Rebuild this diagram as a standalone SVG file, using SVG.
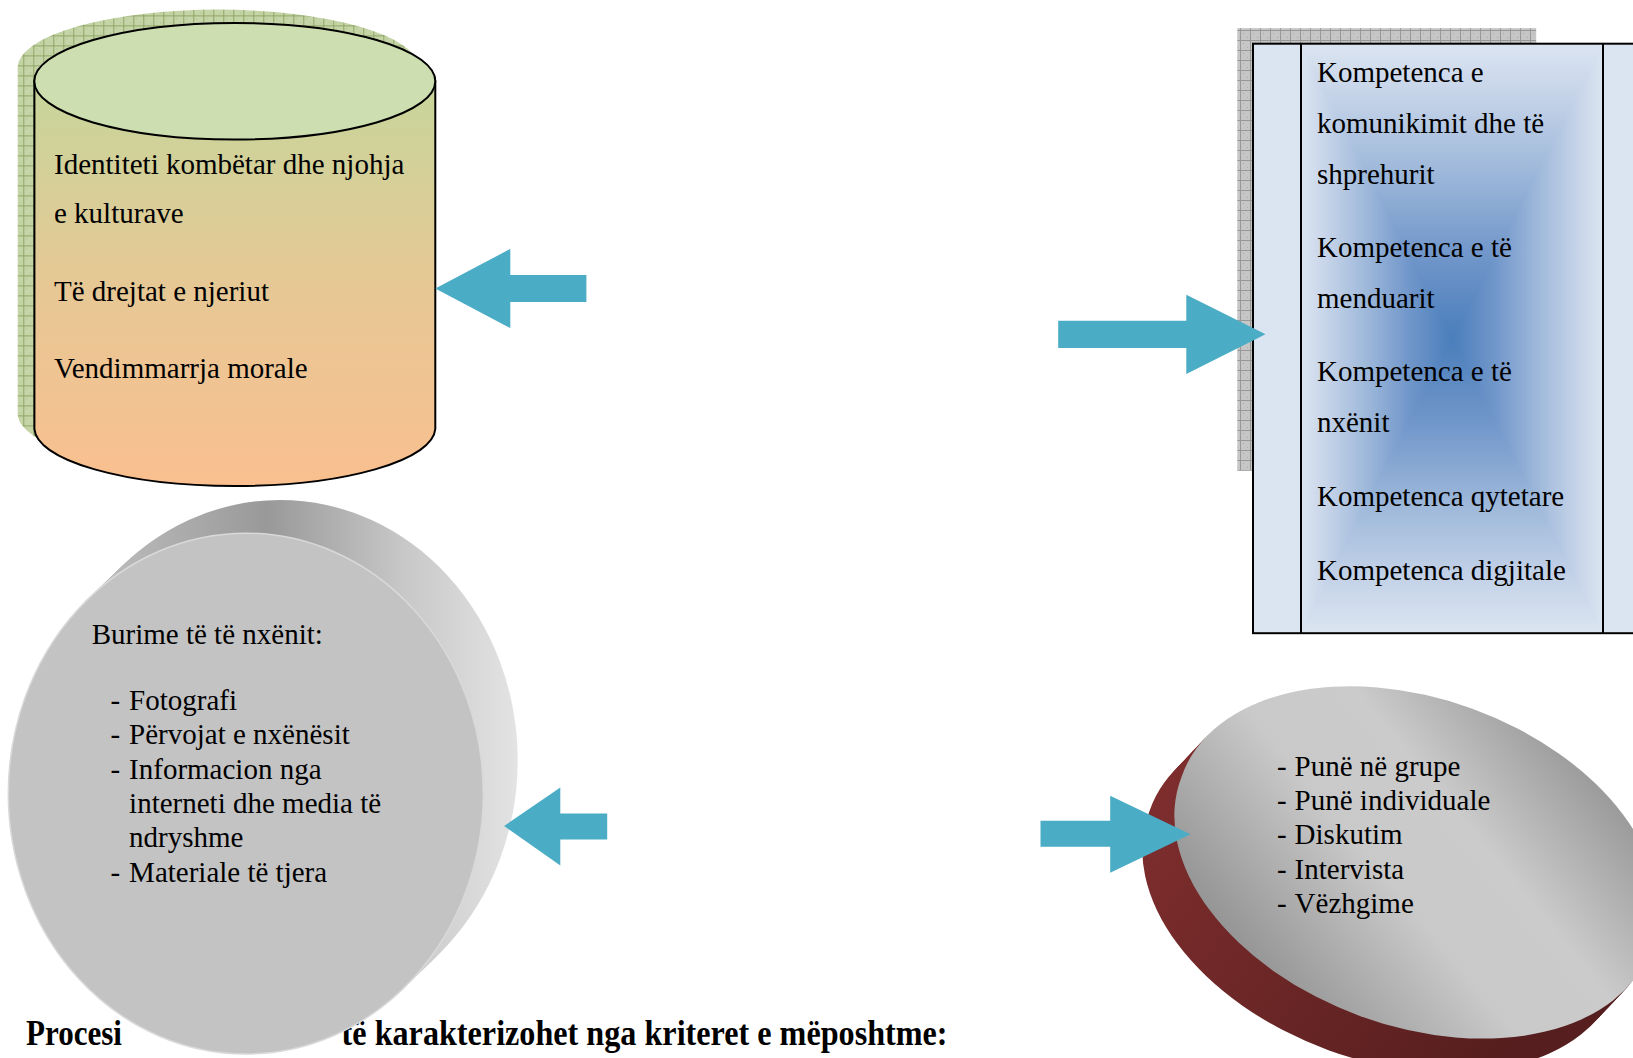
<svg xmlns="http://www.w3.org/2000/svg" width="1633" height="1058" viewBox="0 0 1633 1058">
<defs>
<style>
.t{font-family:"Liberation Serif","Times New Roman",serif;font-size:29px;fill:#000}
.b{font-family:"Liberation Serif","Times New Roman",serif;font-size:36px;font-weight:bold;fill:#000}
.arrow{fill:#4bacc6}
</style>
<pattern id="pGreen" width="10" height="10" patternUnits="userSpaceOnUse">
<rect width="10" height="10" fill="#c6d5a8"/>
<path d="M0 0.5H10M0.5 0V10" stroke="#8ea564" stroke-width="1"/>
<rect x="3" y="3" width="1" height="1" fill="#a9bd86"/><rect x="7" y="7" width="1" height="1" fill="#a9bd86"/>
</pattern>
<pattern id="pGray" width="10" height="10" patternUnits="userSpaceOnUse">
<rect width="10" height="10" fill="#c6c6c6"/>
<path d="M0 0.5H10M0.5 0V10" stroke="#979797" stroke-width="1"/>
<rect x="3" y="3" width="1" height="1" fill="#aaaaaa"/><rect x="7" y="7" width="1" height="1" fill="#aaaaaa"/>
</pattern>
<linearGradient id="gCyl" x1="0" y1="81" x2="0" y2="487" gradientUnits="userSpaceOnUse">
<stop offset="0" stop-color="#c6d69b"/>
<stop offset="0.5" stop-color="#e6c895"/>
<stop offset="1" stop-color="#fabf8f"/>
</linearGradient>
<linearGradient id="gL" x1="1301" y1="0" x2="1452" y2="0" gradientUnits="userSpaceOnUse">
<stop offset="0" stop-color="#dbe5f1"/><stop offset="0.15" stop-color="#c9d6ea"/><stop offset="0.4" stop-color="#a3bcdc"/><stop offset="0.7" stop-color="#7398cb"/><stop offset="1" stop-color="#4a7ebb"/>
</linearGradient>
<linearGradient id="gR" x1="1603" y1="0" x2="1452" y2="0" gradientUnits="userSpaceOnUse">
<stop offset="0" stop-color="#dbe5f1"/><stop offset="0.15" stop-color="#c9d6ea"/><stop offset="0.4" stop-color="#a3bcdc"/><stop offset="0.7" stop-color="#7398cb"/><stop offset="1" stop-color="#4a7ebb"/>
</linearGradient>
<linearGradient id="gT" x1="0" y1="43.7" x2="0" y2="338.5" gradientUnits="userSpaceOnUse">
<stop offset="0" stop-color="#dbe5f1"/><stop offset="0.15" stop-color="#c9d6ea"/><stop offset="0.4" stop-color="#a3bcdc"/><stop offset="0.7" stop-color="#7398cb"/><stop offset="1" stop-color="#4a7ebb"/>
</linearGradient>
<linearGradient id="gB" x1="0" y1="633.2" x2="0" y2="338.5" gradientUnits="userSpaceOnUse">
<stop offset="0" stop-color="#dbe5f1"/><stop offset="0.15" stop-color="#c9d6ea"/><stop offset="0.4" stop-color="#a3bcdc"/><stop offset="0.7" stop-color="#7398cb"/><stop offset="1" stop-color="#4a7ebb"/>
</linearGradient>
<linearGradient id="gSide" x1="60" y1="0" x2="520" y2="0" gradientUnits="userSpaceOnUse">
<stop offset="0" stop-color="#c6c6c6"/>
<stop offset="0.45" stop-color="#999999"/>
<stop offset="0.75" stop-color="#c8c8c8"/>
<stop offset="1" stop-color="#e4e4e4"/>
</linearGradient>
<linearGradient id="gBand" x1="1140" y1="820" x2="1500" y2="1060" gradientUnits="userSpaceOnUse">
<stop offset="0" stop-color="#7e2d2d"/>
<stop offset="1" stop-color="#561e1e"/>
</linearGradient>
<linearGradient id="gFace" x1="1229" y1="1010" x2="1604" y2="700" gradientUnits="userSpaceOnUse">
<stop offset="0" stop-color="#858585"/>
<stop offset="0.42" stop-color="#c9c9c9"/>
<stop offset="0.62" stop-color="#cbcbcb"/>
<stop offset="1" stop-color="#858585"/>
</linearGradient>
</defs>
<rect width="1633" height="1058" fill="#ffffff"/>

<g id="node-values">
<path transform="translate(-16.7,-14.6)" d="M34.4,81.2 L34.4,429 A200.5,58.3 0 0 0 435.3,429 L435.3,81.2 A200.5,58.3 0 0 0 34.4,81.2 Z" fill="url(#pGreen)"/>
<path d="M34.4,81.2 L34.4,429 A200.5,58.3 0 0 0 435.3,429 L435.3,81.2 A200.5,58.3 0 0 0 34.4,81.2 Z" fill="url(#gCyl)" stroke="#000" stroke-width="2"/>
<ellipse cx="234.8" cy="81.2" rx="200.5" ry="58.3" fill="#cddfb0" stroke="#000" stroke-width="2"/>
<text class="t" x="54" y="173.5">Identiteti kombëtar dhe njohja</text>
<text class="t" x="54" y="222.5">e kulturave</text>
<text class="t" x="54" y="300.5">Të drejtat e njeriut</text>
<text class="t" x="54" y="377.5">Vendimmarrja morale</text>
</g>

<g id="node-competences">
<rect x="1237.3" y="28.1" width="298.9" height="442.7" fill="url(#pGray)"/>
<rect x="1253" y="43.7" width="400" height="589.5" fill="#dbe5f1"/>
<rect x="1301" y="43.7" width="151" height="589.5" fill="url(#gL)"/>
<rect x="1452" y="43.7" width="151" height="589.5" fill="url(#gR)"/>
<polygon points="1301,43.7 1603,43.7 1452,338.5" fill="url(#gT)"/>
<polygon points="1301,633.2 1603,633.2 1452,338.5" fill="url(#gB)"/>
<rect x="1253" y="43.7" width="400" height="589.5" fill="none" stroke="#000" stroke-width="2"/>
<line x1="1301" y1="43.7" x2="1301" y2="633.2" stroke="#000" stroke-width="2"/>
<line x1="1603" y1="43.7" x2="1603" y2="633.2" stroke="#000" stroke-width="2"/>
<text class="t" x="1317" y="82">Kompetenca e</text>
<text class="t" x="1317" y="133">komunikimit dhe të</text>
<text class="t" x="1317" y="184">shprehurit</text>
<text class="t" x="1317" y="257">Kompetenca e të</text>
<text class="t" x="1317" y="308">menduarit</text>
<text class="t" x="1317" y="381">Kompetenca e të</text>
<text class="t" x="1317" y="432">nxënit</text>
<text class="t" x="1317" y="506">Kompetenca qytetare</text>
<text class="t" x="1317" y="580">Kompetenca digjitale</text>
</g>

<g id="node-title">
<text class="b" x="26" y="1045" textLength="96" lengthAdjust="spacingAndGlyphs">Procesi</text>
<text class="b" x="341.6" y="1045" textLength="606" lengthAdjust="spacingAndGlyphs">të karakterizohet nga kriteret e mëposhtme:</text>
</g>

<g id="node-resources">
<g fill="url(#gSide)">
<ellipse cx="280.2" cy="760.3" rx="237.5" ry="260.4"/>
<ellipse cx="276.8" cy="763.6" rx="237.5" ry="260.4"/>
<ellipse cx="273.3" cy="767" rx="237.5" ry="260.4"/>
<ellipse cx="269.9" cy="770.3" rx="237.5" ry="260.4"/>
<ellipse cx="266.4" cy="773.6" rx="237.5" ry="260.4"/>
<ellipse cx="263" cy="777" rx="237.5" ry="260.4"/>
<ellipse cx="259.6" cy="780.3" rx="237.5" ry="260.4"/>
<ellipse cx="256.1" cy="783.6" rx="237.5" ry="260.4"/>
<ellipse cx="252.7" cy="786.9" rx="237.5" ry="260.4"/>
<ellipse cx="249.2" cy="790.3" rx="237.5" ry="260.4"/>
</g>
<ellipse cx="245.8" cy="793.6" rx="237.5" ry="260.4" fill="#c3c3c3" stroke="#d9d9d9" stroke-width="1.5"/>
<text class="t" x="91.7" y="644">Burime të të nxënit:</text>
<text class="t" x="110.4" y="710">-</text><text class="t" x="129.1" y="710">Fotografi</text>
<text class="t" x="110.4" y="744">-</text><text class="t" x="129.1" y="744">Përvojat e nxënësit</text>
<text class="t" x="110.4" y="779">-</text><text class="t" x="129.1" y="779">Informacion nga</text>
<text class="t" x="129.1" y="813">interneti dhe media të</text>
<text class="t" x="129.1" y="847">ndryshme</text>
<text class="t" x="110.4" y="882">-</text><text class="t" x="129.1" y="882">Materiale të tjera</text>
</g>

<g id="node-methods">
<g fill="url(#gBand)">
<path d="M1149.5,810.9A250,161.4 20 1 1 1619.3,981.9A250,161.4 20 1 1 1149.5,810.9Z"/>
<path d="M1153.5,806.7A250,161.4 20 1 1 1623.3,977.7A250,161.4 20 1 1 1153.5,806.7Z"/>
<path d="M1157.5,802.4A250,161.4 20 1 1 1627.3,973.4A250,161.4 20 1 1 1157.5,802.4Z"/>
<path d="M1161.5,798.2A250,161.4 20 1 1 1631.3,969.2A250,161.4 20 1 1 1161.5,798.2Z"/>
<path d="M1165.5,793.9A250,161.4 20 1 1 1635.3,964.9A250,161.4 20 1 1 1165.5,793.9Z"/>
<path d="M1169.5,789.7A250,161.4 20 1 1 1639.3,960.7A250,161.4 20 1 1 1169.5,789.7Z"/>
<path d="M1173.5,785.4A250,161.4 20 1 1 1643.3,956.4A250,161.4 20 1 1 1173.5,785.4Z"/>
<path d="M1177.5,781.2A250,161.4 20 1 1 1647.3,952.2A250,161.4 20 1 1 1177.5,781.2Z"/>
</g>
<path d="M1181.5,776.9A250,161.4 20 1 1 1651.3,947.9A250,161.4 20 1 1 1181.5,776.9Z" fill="url(#gFace)"/>
<text class="t" x="1277" y="775.5">-</text><text class="t" x="1294.6" y="775.5">Punë në grupe</text>
<text class="t" x="1277" y="810">-</text><text class="t" x="1294.6" y="810">Punë individuale</text>
<text class="t" x="1277" y="844">-</text><text class="t" x="1294.6" y="844">Diskutim</text>
<text class="t" x="1277" y="879">-</text><text class="t" x="1294.6" y="879">Intervista</text>
<text class="t" x="1277" y="913">-</text><text class="t" x="1294.6" y="913">Vëzhgime</text>
</g>

<g id="connectors">
<polygon class="arrow" points="435.3,288.5 510.3,248.9 510.3,275 586.4,275 586.4,302 510.3,302 510.3,328.1"/>
<polygon class="arrow" points="1058.2,320.8 1186.3,320.8 1186.3,294.8 1265.5,334.3 1186.3,373.9 1186.3,347.9 1058.2,347.9"/>
<polygon class="arrow" points="504.1,826 560.3,787.4 560.3,813.4 607.2,813.4 607.2,839.5 560.3,839.5 560.3,865.5"/>
<polygon class="arrow" points="1040.5,820.7 1110.2,820.7 1110.2,795.7 1190.4,834.3 1110.2,872.8 1110.2,846.7 1040.5,846.7"/>
</g>
</svg>
